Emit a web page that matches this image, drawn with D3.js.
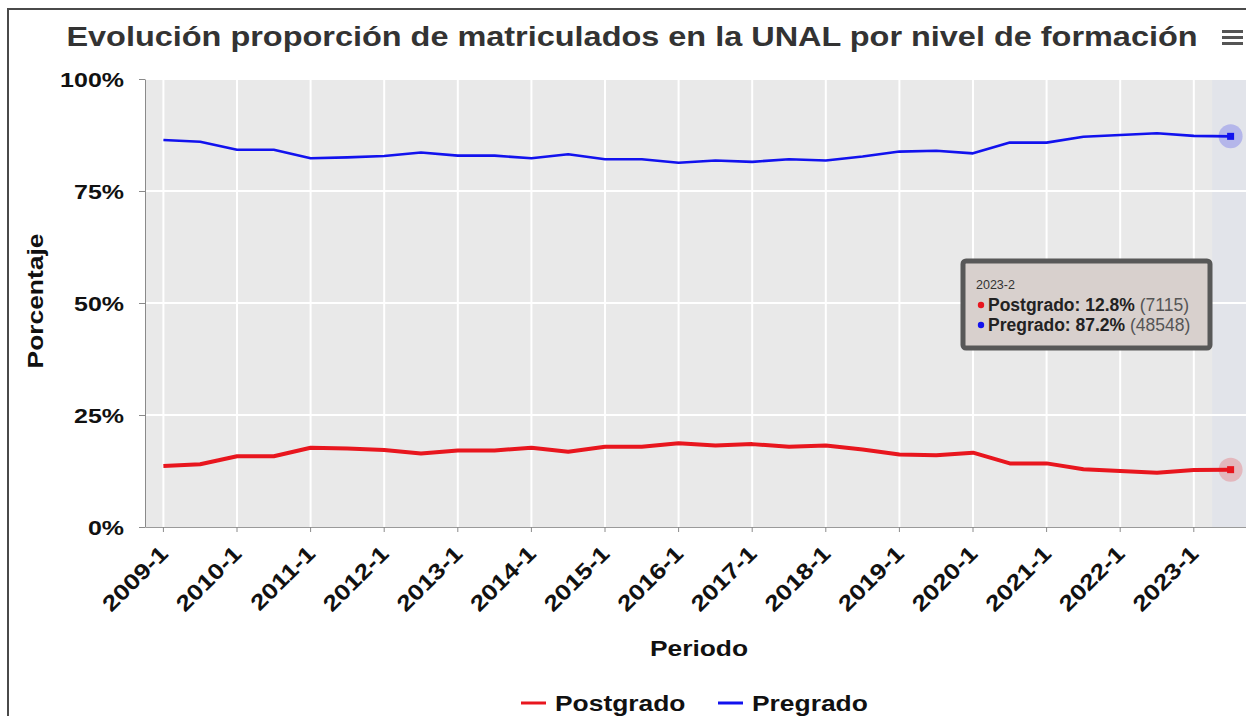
<!DOCTYPE html>
<html>
<head>
<meta charset="utf-8">
<script src="https://cdn.jsdelivr.net/npm/d3@7"></script>
<style>
  body { margin: 0; background: #fff; }
  svg text { font-family: "Liberation Sans", Arial, sans-serif; }
</style>
</head>
<body>
<div id="chart"></div>
<script>
// data
const periodos = ["2009-1", "2009-2", "2010-1", "2010-2", "2011-1", "2011-2", "2012-1", "2012-2",
  "2013-1", "2013-2", "2014-1", "2014-2", "2015-1", "2015-2", "2016-1", "2016-2", "2017-1", "2017-2",
  "2018-1", "2018-2", "2019-1", "2019-2", "2020-1", "2020-2", "2021-1", "2021-2", "2022-1", "2022-2",
  "2023-1", "2023-2"];
const postgrado = [13.6, 14.0, 15.8, 15.8, 17.7, 17.5, 17.2, 16.4, 17.1, 17.1, 17.7, 16.8, 17.9, 17.9,
  18.7, 18.2, 18.5, 17.9, 18.2, 17.3, 16.2, 16.0, 16.6, 14.2, 14.2, 12.9, 12.5, 12.1, 12.7, 12.8];
const pregrado = [86.4, 86.0, 84.2, 84.2, 82.3, 82.5, 82.8, 83.6, 82.9, 82.9, 82.3, 83.2, 82.1, 82.1,
  81.3, 81.8, 81.5, 82.1, 81.8, 82.7, 83.8, 84.0, 83.4, 85.8, 85.8, 87.1, 87.5, 87.9, 87.3, 87.2];
const xTickLabels = ["2009-1", "2010-1", "2011-1", "2012-1", "2013-1", "2014-1", "2015-1", "2016-1",
  "2017-1", "2018-1", "2019-1", "2020-1", "2021-1", "2022-1", "2023-1"];
const yTicks = [0, 25, 50, 75, 100];
const seriesNames = ["Postgrado", "Pregrado"];
const seriesColors = ["#e8161e", "#1212ee"];
const tooltipPeriodo = "2023-2";
const tooltipCounts = [7115, 48548];

const w = 1246, h = 716;
const pLeft = 145, pRight = 1249, pTop = 79, pBottom = 527;

const svg = d3.select("#chart").append("svg")
  .attr("width", w)
  .attr("height", h);

// frame around the chart
svg.append("path")
  .attr("d", `M8,${h} L8,9 L${w},9`)
  .attr("fill", "none")
  .attr("stroke", "#4a4a4a")
  .attr("stroke-width", 2);

const x = d3.scaleBand().domain(periodos).range([pLeft, pRight]);
const cx = p => x(p) + x.bandwidth() / 2;
const y = d3.scaleLinear().domain([0, 100]).range([pBottom, pTop]);

// plot background + hovered band
svg.append("rect")
  .attr("x", pLeft + 1).attr("y", pTop)
  .attr("width", pRight - pLeft).attr("height", pBottom - pTop)
  .attr("fill", "#e9e9e9");
svg.append("rect")
  .attr("x", x(tooltipPeriodo)).attr("y", pTop)
  .attr("width", x.bandwidth()).attr("height", pBottom - pTop)
  .attr("fill", "#e2e4ea");

// grid lines
svg.append("g").selectAll("line")
  .data(xTickLabels)
  .join("line")
  .attr("x1", d => cx(d)).attr("x2", d => cx(d))
  .attr("y1", pTop).attr("y2", pBottom)
  .attr("stroke", "#fff").attr("stroke-width", 2);
svg.append("g").selectAll("line")
  .data(yTicks.slice(1))
  .join("line")
  .attr("x1", pLeft + 1).attr("x2", pRight)
  .attr("y1", d => y(d)).attr("y2", d => y(d))
  .attr("stroke", "#fff").attr("stroke-width", 2);

// y axis
const ySx = 1.19;
const yAxis = svg.append("g")
  .attr("transform", `translate(${pLeft},0)`)
  .call(d3.axisLeft(y).tickValues(yTicks).tickSize(6).tickSizeOuter(0).tickFormat(d => d + "%"));
yAxis.select(".domain").attr("stroke", "#8a8a8a");
yAxis.selectAll(".tick line").attr("stroke", "#8a8a8a");
yAxis.selectAll(".tick text")
  .attr("x", -21 / ySx)
  .attr("dy", "0.36em")
  .attr("transform", `scale(${ySx},1)`)
  .attr("font-size", 21)
  .attr("font-weight", "bold")
  .attr("fill", "#111");

// x axis (labels turned 45 degrees, stretched along the text)
const xAxis = svg.append("g")
  .attr("transform", `translate(0,${pBottom})`)
  .call(d3.axisBottom(x).tickValues(xTickLabels).tickSize(5).tickSizeOuter(0));
xAxis.select(".domain").attr("stroke", "#9a9a9a");
xAxis.selectAll(".tick line").attr("stroke", "#8a8a8a");
xAxis.selectAll(".tick text")
  .attr("x", 0).attr("y", 0).attr("dy", 0)
  .attr("text-anchor", "end")
  .attr("transform", "translate(6,28) rotate(-45) scale(1.2,1)")
  .attr("font-size", 22)
  .attr("font-weight", "bold")
  .attr("fill", "#111");

// series lines
const series = [postgrado, pregrado];
const line = d3.line()
  .x((d, i) => cx(periodos[i]))
  .y(d => y(d));
svg.append("g").selectAll("path")
  .data(series)
  .join("path")
  .attr("d", line)
  .attr("fill", "none")
  .attr("stroke", (d, i) => seriesColors[i])
  .attr("stroke-width", (d, i) => i === 0 ? 4 : 2.6)
  .attr("stroke-linejoin", "round");

// hovered markers
const last = periodos.length - 1;
series.forEach((s, i) => {
  svg.append("circle")
    .attr("cx", cx(periodos[last])).attr("cy", y(s[last]))
    .attr("r", 12)
    .attr("fill", seriesColors[i])
    .attr("fill-opacity", 0.22);
  svg.append("rect")
    .attr("x", cx(periodos[last]) - 3.5).attr("y", y(s[last]) - 3.5)
    .attr("width", 7).attr("height", 7)
    .attr("fill", seriesColors[i]);
});

// tooltip
const tip = svg.append("g").attr("transform", "translate(963,261)");
tip.append("rect")
  .attr("width", 247).attr("height", 87)
  .attr("rx", 3)
  .attr("fill", "#d8d0cd")
  .attr("stroke", "#585858")
  .attr("stroke-width", 5);
tip.append("text")
  .attr("x", 13).attr("y", 28)
  .attr("font-size", 12.5)
  .attr("fill", "#333")
  .text(tooltipPeriodo);
seriesNames.forEach((name, i) => {
  const v = series[i][last];
  tip.append("circle")
    .attr("cx", 18).attr("cy", 44 + i * 20)
    .attr("r", 3.2)
    .attr("fill", seriesColors[i]);
  const row = tip.append("text")
    .attr("x", 25).attr("y", 50 + i * 20)
    .attr("font-size", 17.5)
    .attr("fill", "#222");
  row.append("tspan").attr("font-weight", "bold").text(name + ": " + v.toFixed(1) + "%");
  row.append("tspan").attr("fill", "#555").text(" (" + tooltipCounts[i] + ")");
});

// titles
svg.append("text")
  .attr("transform", "translate(632,46) scale(1.18,1)")
  .attr("text-anchor", "middle")
  .attr("font-size", 27.5)
  .attr("font-weight", "bold")
  .attr("fill", "#333")
  .text("Evolución proporción de matriculados en la UNAL por nivel de formación");

svg.append("text")
  .attr("transform", "translate(699,656) scale(1.2,1)")
  .attr("text-anchor", "middle")
  .attr("font-size", 22)
  .attr("font-weight", "bold")
  .attr("fill", "#111")
  .text("Periodo");

svg.append("text")
  .attr("transform", "translate(43,301) rotate(-90) scale(1.2,1)")
  .attr("text-anchor", "middle")
  .attr("font-size", 22)
  .attr("font-weight", "bold")
  .attr("fill", "#111")
  .text("Porcentaje");

// menu icon
svg.append("g").selectAll("rect")
  .data([0, 1, 2])
  .join("rect")
  .attr("x", 1222).attr("y", d => 30 + d * 6)
  .attr("width", 21).attr("height", 3)
  .attr("fill", "#555");

// legend
const legendX = [521, 718];
const legend = svg.append("g").selectAll("g")
  .data(seriesNames)
  .join("g")
  .attr("transform", (d, i) => `translate(${legendX[i]},703)`);
legend.append("line")
  .attr("x1", 0).attr("x2", 25)
  .attr("stroke", (d, i) => seriesColors[i])
  .attr("stroke-width", 3);
legend.append("text")
  .attr("transform", "translate(34,8) scale(1.2,1)")
  .attr("font-size", 22)
  .attr("font-weight", "bold")
  .attr("fill", "#111")
  .text(d => d);
</script>
</body>
</html>
